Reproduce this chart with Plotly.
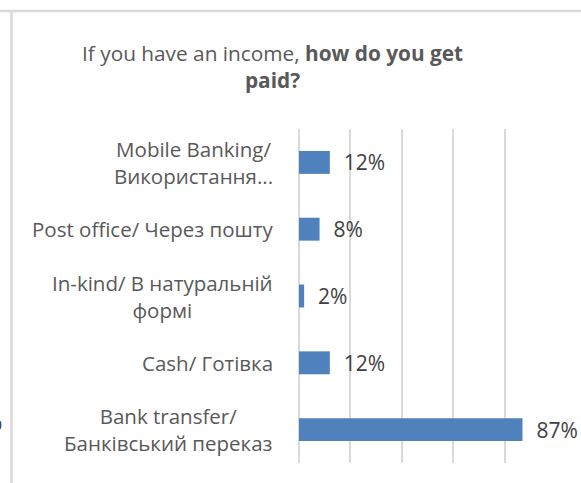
import plotly.graph_objects as go

# categories top to bottom, as in the source chart
categories = [
    "Mobile Banking/<br>Використання...",
    "Post office/ Через пошту",
    "In-kind/ В натуральній<br>формі",
    "Cash/ Готівка",
    "Bank transfer/<br>Банківський переказ",
]
shares = [0.12, 0.08, 0.02, 0.12, 0.87]
grid_ticks = [0, 0.2, 0.4, 0.6, 0.8, 1.0]

W, H = 581, 483
L, R, T, B = 299, 25, 129, 20
pw, ph = W - L - R, H - T - B


def px_x(x):
    return (x - L) / pw


def px_y(y):
    return 1 - (y - T) / ph


FONT = "Open Sans"
GRID = "#D9D9D9"
fig = go.Figure(go.Bar(
    x=shares, y=categories, orientation="h",
    marker=dict(color="#4F81BD", line=dict(width=0)),
    text=["\u00a0\u00a0" + f"{v:.0%}" for v in shares],
    textposition="outside", cliponaxis=False, constraintext="none",
    textfont=dict(family=FONT, size=21, color="#404040"),
    hoverinfo="skip"))

annotations = [dict(
    xref="paper", yref="y", x=0, y=c, xshift=-24, xanchor="right",
    yanchor="middle", align="center", showarrow=False, text=c,
    font=dict(family=FONT, size=20.5, color="#595959")) for c in categories]

annotations.append(dict(
    xref="paper", yref="paper", x=px_x(272), y=px_y(66), xanchor="center",
    yanchor="middle", showarrow=False, align="center",
    text="If you have an income, <b>how do you get<br>paid?</b>",
    font=dict(family=FONT, size=20.8, color="#595959")))

# fragment of a neighbouring chart's label, cut at the left edge
annotations.append(dict(
    xref="paper", yref="paper", x=px_x(4), y=px_y(422), xanchor="right",
    yanchor="middle", showarrow=False, text="%",
    font=dict(family=FONT, size=21, color="#404040")))

shapes = [
    dict(type="line", xref="paper", yref="paper", x0=px_x(0), x1=px_x(W),
         y0=px_y(11), y1=px_y(11), line=dict(color=GRID, width=2.5)),
    dict(type="line", xref="paper", yref="paper", x0=px_x(11.5), x1=px_x(11.5),
         y0=px_y(11), y1=px_y(H), line=dict(color=GRID, width=2.5)),
]

fig.update_layout(
    width=W, height=H, margin=dict(l=L, r=R, t=T, b=B),
    paper_bgcolor="white", plot_bgcolor="white",
    bargap=0.657, showlegend=False,
    annotations=annotations, shapes=shapes,
    xaxis=dict(range=[0, 1.0005], tickvals=grid_ticks, showticklabels=False,
               showgrid=True, gridcolor=GRID, gridwidth=2,
               zeroline=True, zerolinecolor=GRID, zerolinewidth=2,
               showline=False, fixedrange=True),
    yaxis=dict(autorange="reversed", showticklabels=False, showgrid=False,
               zeroline=False, showline=False, fixedrange=True),
)

# drop the default 8px body margin so the figure sits at the page corner
fig.write_html("out.html", config={"displayModeBar": False},
               post_script="document.body.style.margin='0';")
